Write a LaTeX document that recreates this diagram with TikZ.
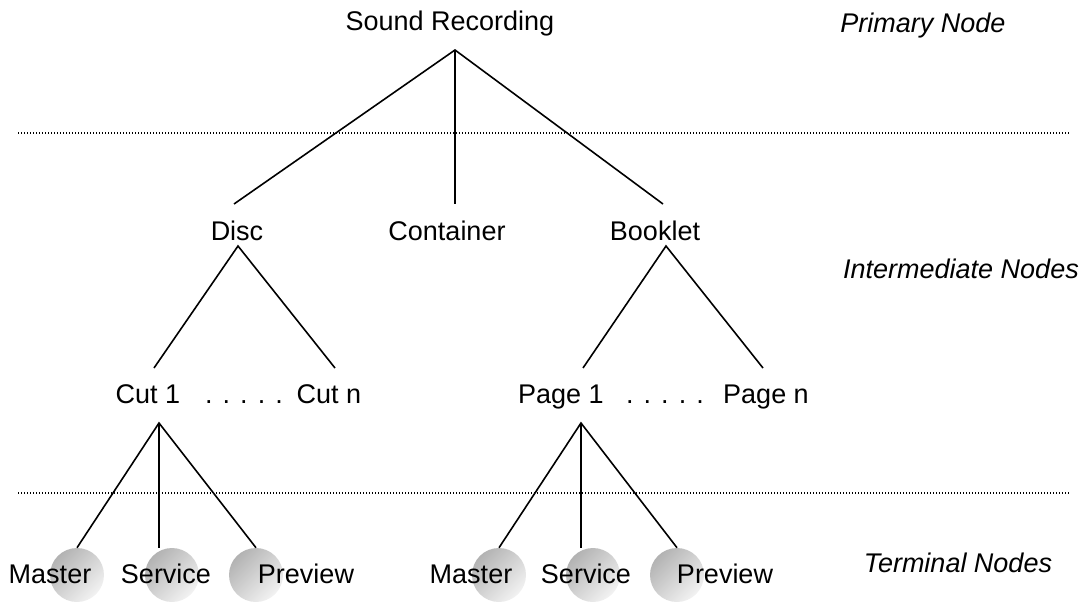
\documentclass[tikz,border=0pt]{standalone}
\usepackage{fontspec}
\setmainfont{Liberation Sans}
\usetikzlibrary{calc}

\begin{document}
\begin{tikzpicture}[x=0.75pt,y=-0.75pt,
	lbl/.style={font=\fontsize{20.25}{24}\selectfont,anchor=base,inner sep=0pt},
	tier/.style={lbl,font=\fontsize{20.25}{24}\selectfont\itshape},
	link/.style={line width=1.2pt},
	divider/.style={line width=0.8pt,dash pattern=on 0.8pt off 1.45pt},
	ball/.style={circle,minimum size=40.5pt,inner sep=0pt,top color=black!30,bottom color=black!5,shading angle=45}]
	\useasboundingbox (0,0) rectangle (1086,603);
	% level separators
	\draw[divider] (18,133) -- (1070,133);
	\draw[divider] (18,493) -- (1070,493);
	% tree labels
	\node[lbl] (rec) at (450,31) {Sound Recording};
	\node[lbl] (disc) at (237,240) {Disc};
	\node[lbl] (cont) at (447,240) {Container};
	\node[lbl] (book) at (655,240) {Booklet};
	\node[lbl] (cut1) at (148,403) {Cut 1};
	\node[lbl] (cutdots) at (244,403) {. . . . .};
	\node[lbl] (cutn) at (329,403) {Cut n};
	\node[lbl] (page1) at (561,403) {Page 1};
	\node[lbl] (pagedots) at (665,403) {. . . . .};
	\node[lbl] (pagen) at (766,403) {Page n};
	% level names
	\node[tier] (prim) at (923,32) {Primary Node};
	\node[tier] (inter) at (961,278) {Intermediate Nodes};
	\node[tier] (term) at (958,572) {Terminal Nodes};
	% terminal balls
	\node[ball] (ballA1) at (77,575) {};
	\node[ball] (ballA2) at (172,575) {};
	\node[ball] (ballA3) at (256,575) {};
	\node[ball] (ballB1) at (499,575) {};
	\node[ball] (ballB2) at (593,575) {};
	\node[ball] (ballB3) at (677,575) {};
	\node[lbl] (mastA) at (50,583) {Master};
	\node[lbl] (servA) at (166,583) {Service};
	\node[lbl] (prevA) at (306,583) {Preview};
	\node[lbl] (mastB) at (471,583) {Master};
	\node[lbl] (servB) at (586,583) {Service};
	\node[lbl] (prevB) at (725,583) {Preview};
	% junctions
	\coordinate (rec-j) at (455,50);
	\coordinate (disc-in) at (234,204);
	\coordinate (cont-in) at (455,204);
	\coordinate (book-in) at (663,204);
	\coordinate (disc-j) at (238,246);
	\coordinate (cut1-in) at (154,368);
	\coordinate (cutn-in) at (335,368);
	\coordinate (book-j) at (666,246);
	\coordinate (page1-in) at (583,368);
	\coordinate (pagen-in) at (763,368);
	\coordinate (cut1-j) at (159,423);
	\coordinate (page1-j) at (581,423);
	% branches
	\draw[link] (disc-in) -- (rec-j) -- (book-in);
	\draw[link] (rec-j) -- (cont-in);
	\draw[link] (cut1-in) -- (disc-j) -- (cutn-in);
	\draw[link] (page1-in) -- (book-j) -- (pagen-in);
	\draw[link] (ballA1.north) -- (cut1-j) -- (ballA3.north);
	\draw[link] (cut1-j) -- (cut1-j |- ballA2.north);
	\draw[link] (ballB1.north) -- (page1-j) -- (ballB3.north);
	\draw[link] (page1-j) -- (page1-j |- ballB2.north);
\end{tikzpicture}
\end{document}
